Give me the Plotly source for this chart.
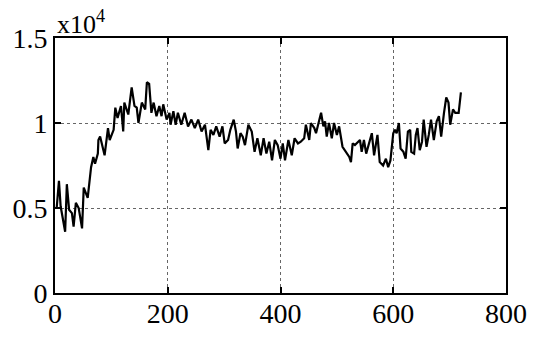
import plotly.graph_objects as go

# sample index
x_vals = [3, 7, 10, 18, 21, 25, 30, 33, 37, 42, 48, 51, 58, 64, 68, 71, 76, 77, 80, 88,
          94, 97, 104, 107, 111, 117, 121, 123, 130, 136, 141, 145, 148, 154, 160, 163, 167, 171, 175, 180,
          185, 189, 192, 198, 203, 205, 210, 214, 218, 224, 230, 236, 242, 248, 254, 260, 266, 272, 276, 281,
          286, 292, 297, 301, 307, 311, 317, 321, 324, 329, 333, 337, 343, 349, 354, 359, 365, 370, 375, 380,
          385, 390, 395, 400, 404, 408, 414, 420, 425, 431, 436, 442, 445, 449, 451, 454, 460, 463, 468, 472,
          476, 479, 482, 486, 491, 495, 500, 504, 510, 517, 522, 525, 528, 532, 537, 541, 544, 548, 552, 557,
          562, 566, 572, 576, 582, 587, 591, 595, 600, 603, 606, 610, 613, 618, 622, 626, 630, 632, 637, 640,
          643, 647, 651, 654, 659, 663, 667, 672, 677, 681, 685, 690, 694, 698, 701, 706, 710, 716, 720]
# values in units of 10^4
y_vals = [0.50, 0.66, 0.51, 0.36, 0.64, 0.49, 0.47, 0.39, 0.53, 0.50, 0.38, 0.62, 0.56, 0.74, 0.80, 0.76, 0.82, 0.90, 0.92, 0.81,
          0.97, 0.90, 0.96, 1.09, 1.03, 1.10, 0.95, 1.12, 1.05, 1.21, 1.10, 1.09, 1.00, 1.12, 1.08, 1.24, 1.23, 1.06, 1.12, 1.04,
          1.10, 1.04, 1.11, 1.02, 1.06, 0.99, 1.07, 0.99, 1.06, 0.99, 1.06, 0.98, 1.02, 0.97, 1.02, 0.95, 0.99, 0.84, 0.96, 0.93,
          0.98, 0.92, 0.98, 0.88, 0.90, 0.96, 1.02, 0.95, 0.85, 0.94, 0.92, 0.87, 0.99, 0.95, 0.83, 0.91, 0.81, 0.91, 0.82, 0.89,
          0.78, 0.90, 0.87, 0.79, 0.88, 0.78, 0.90, 0.81, 0.91, 0.88, 0.89, 0.91, 0.99, 0.92, 0.90, 1.00, 0.97, 0.94, 1.01, 1.06,
          0.98, 1.01, 0.92, 1.00, 0.91, 1.00, 0.93, 0.98, 0.86, 0.82, 0.80, 0.77, 0.88, 0.87, 0.89, 0.90, 0.83, 0.90, 0.82, 0.88,
          0.94, 0.81, 0.93, 0.77, 0.75, 0.79, 0.74, 0.78, 0.94, 0.96, 0.94, 1.00, 0.85, 0.83, 0.79, 0.95, 0.96, 0.83, 0.82, 0.93,
          0.97, 0.84, 0.89, 1.02, 0.86, 0.93, 1.02, 0.90, 1.01, 1.04, 0.92, 1.06, 1.15, 1.12, 0.99, 1.08, 1.06, 1.06, 1.18]

x_ticks = [0, 200, 400, 600, 800]
y_ticks = [0, 0.5, 1, 1.5]
y_tick_text = ["0", "0.5", "1", "1.5"]

FONT = "Liberation Serif, Times New Roman, serif"

fig = go.Figure()
fig.add_trace(go.Scatter(x=x_vals, y=y_vals, mode="lines",
                         line=dict(color="black", width=2.2), showlegend=False))

fig.update_layout(
    width=546, height=348,
    margin=dict(l=53, r=40, t=38, b=55),
    plot_bgcolor="white", paper_bgcolor="white",
    font=dict(family=FONT, size=28, color="black"),
)
fig.update_xaxes(range=[0, 800], tickvals=x_ticks, ticks="inside", ticklen=6,
                 tickwidth=1.5, tickcolor="black", ticklabelstandoff=-6,
                 showline=True, linecolor="black", linewidth=2, mirror="ticks",
                 showgrid=True, gridcolor="#666", griddash="dot", gridwidth=1,
                 zeroline=False, tickfont=dict(size=28))
fig.update_yaxes(range=[0, 1.5], tickvals=y_ticks, ticktext=y_tick_text, ticks="inside",
                 ticklen=6, tickwidth=1.5, tickcolor="black",
                 showline=True, linecolor="black", linewidth=2, mirror="ticks",
                 showgrid=True, gridcolor="#666", griddash="dot", gridwidth=1,
                 zeroline=False, tickfont=dict(size=28))

fig.add_annotation(text="x10<sup>4</sup>", xref="paper", yref="paper", x=0.0, y=1.0,
                   xanchor="left", yanchor="bottom", showarrow=False,
                   font=dict(family=FONT, size=26, color="black"), yshift=-3)

fig.write_html("out.html")
